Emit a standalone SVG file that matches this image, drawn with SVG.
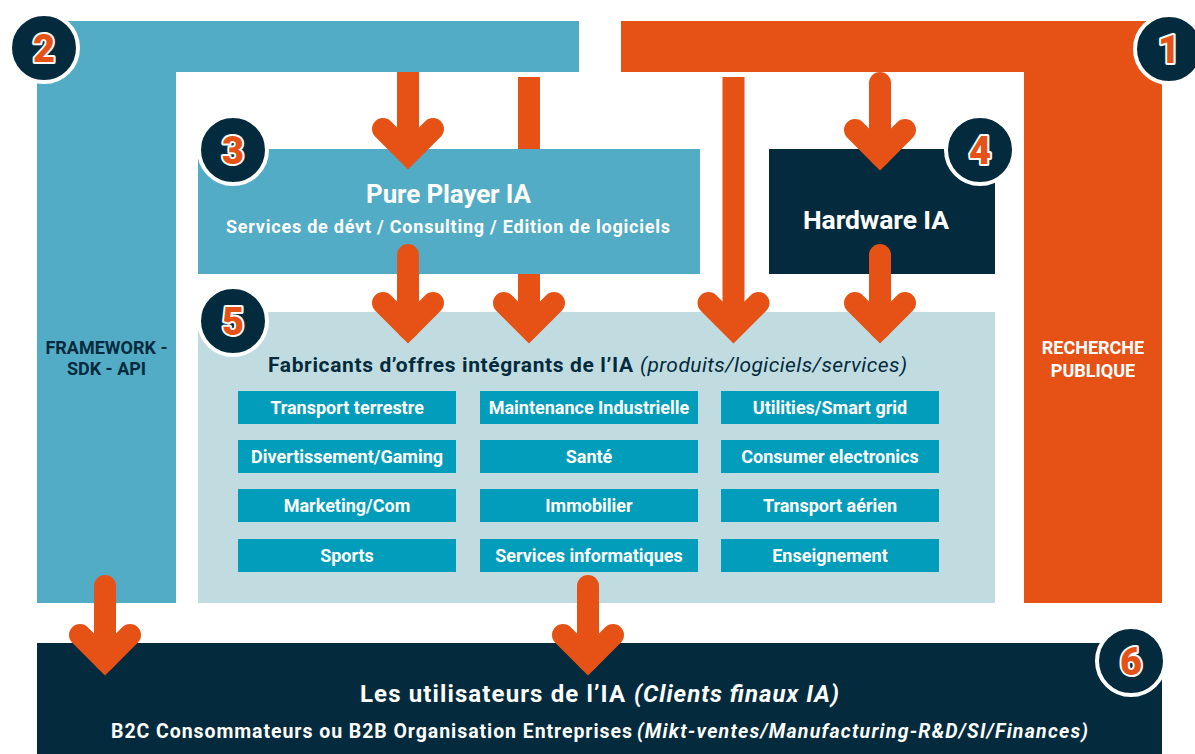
<svg xmlns="http://www.w3.org/2000/svg" width="1195" height="754" viewBox="0 0 1195 754">
<defs>
<style>
.blue{fill:#53ACC5}
.orange{fill:#E65216}
.navy{fill:#032B3D}
.light{fill:#C1DCE0}
.teal{fill:#029DBA}
.t{font-family:Roboto,"Liberation Sans",sans-serif;font-weight:700}
.w{fill:#FFFFFF}
.n{fill:#032B3D}
.item{font-family:Roboto,"Liberation Sans",sans-serif;font-weight:700;font-size:18px;fill:#FFFFFF;text-anchor:middle}
.shaft{fill:none;stroke:#E65216;stroke-width:22}
.butt{stroke-linecap:butt}
.round{stroke-linecap:round}
.head{fill:none;stroke:#E65216;stroke-width:22;stroke-linecap:round;stroke-linejoin:miter}
.badge circle{fill:#032B3D;stroke:#FFFFFF;stroke-width:4}
.badge text{font-family:Roboto,"Liberation Sans",sans-serif;font-weight:900;font-size:38px;fill:#E65216;stroke:#FFFFFF;stroke-width:4;paint-order:stroke;stroke-linejoin:round;text-anchor:middle}
</style>
</defs>
<rect width="1195" height="754" fill="#FFFFFF"/>

<g id="node-framework">
<path class="blue" d="M37,21 H579 V72 H176 V603 H37 Z"/>
<text class="t n" font-size="18" text-anchor="middle" x="106.5" y="354">FRAMEWORK -</text>
<text class="t n" font-size="18" text-anchor="middle" x="106.5" y="375">SDK - API</text>
</g>

<g id="node-recherche">
<path class="orange" d="M621,21 H1162 V603 H1024 V72 H621 Z"/>
<text class="t w" font-size="18" text-anchor="middle" x="1093" y="354">RECHERCHE</text>
<text class="t w" font-size="18" text-anchor="middle" x="1093" y="377">PUBLIQUE</text>
</g>

<g id="node-pureplayer">
<rect class="blue" x="198" y="149" width="502" height="125"/>
<text class="t w" font-size="26" x="366" y="203" textLength="165">Pure Player IA</text>
<text class="t w" font-size="18" x="226" y="233" textLength="444">Services de dévt / Consulting / Edition de logiciels</text>
</g>

<g id="node-hardware">
<rect class="navy" x="769" y="149" width="226" height="125"/>
<text class="t w" font-size="26.5" x="803" y="229" textLength="146">Hardware IA</text>
</g>

<g id="node-fabricants">
<rect class="light" x="198" y="312" width="797" height="291"/>
<text class="t n" font-size="21" x="268" y="372" textLength="365">Fabricants d’offres intégrants de l’IA</text>
<text class="n" font-family="Roboto,'Liberation Sans',sans-serif" font-style="italic" font-weight="400" font-size="21" x="640" y="372" textLength="267">(produits/logiciels/services)</text>
</g>

<g id="items">
<g id="item-transport-terrestre"><rect class="teal" x="238" y="391" width="218" height="33"/><text class="item" x="347" y="414">Transport terrestre</text></g>
<g id="item-maintenance"><rect class="teal" x="480" y="391" width="218" height="33"/><text class="item" x="589" y="414">Maintenance Industrielle</text></g>
<g id="item-utilities"><rect class="teal" x="721" y="391" width="218" height="33"/><text class="item" x="830" y="414">Utilities/Smart grid</text></g>
<g id="item-divertissement"><rect class="teal" x="238" y="440" width="218" height="33"/><text class="item" x="347" y="463">Divertissement/Gaming</text></g>
<g id="item-sante"><rect class="teal" x="480" y="440" width="218" height="33"/><text class="item" x="589" y="463">Santé</text></g>
<g id="item-consumer"><rect class="teal" x="721" y="440" width="218" height="33"/><text class="item" x="830" y="463">Consumer electronics</text></g>
<g id="item-marketing"><rect class="teal" x="238" y="489" width="218" height="33"/><text class="item" x="347" y="512">Marketing/Com</text></g>
<g id="item-immobilier"><rect class="teal" x="480" y="489" width="218" height="33"/><text class="item" x="589" y="512">Immobilier</text></g>
<g id="item-transport-aerien"><rect class="teal" x="721" y="489" width="218" height="33"/><text class="item" x="830" y="512">Transport aérien</text></g>
<g id="item-sports"><rect class="teal" x="238" y="539" width="218" height="33"/><text class="item" x="347" y="562">Sports</text></g>
<g id="item-services-info"><rect class="teal" x="480" y="539" width="218" height="33"/><text class="item" x="589" y="562">Services informatiques</text></g>
<g id="item-enseignement"><rect class="teal" x="721" y="539" width="218" height="33"/><text class="item" x="830" y="562">Enseignement</text></g>
</g>

<g id="node-utilisateurs">
<rect class="navy" x="37" y="643" width="1125" height="111"/>
<text class="t w" font-size="24" x="360" y="702" textLength="265">Les utilisateurs de l’IA</text>
<text class="t w" font-size="24" font-style="italic" x="634" y="702" textLength="205">(Clients finaux IA)</text>
<text class="t w" font-size="19.5" x="111" y="738" textLength="521">B2C Consommateurs ou B2B Organisation Entreprises</text>
<text class="t w" font-size="19.5" font-style="italic" x="637" y="738" textLength="451">(Mikt-ventes/Manufacturing-R&amp;D/SI/Finances)</text>
</g>

<g id="connectors">
<line class="shaft butt" x1="408" y1="72" x2="408" y2="154"/>
<polyline class="head" points="383,129 408,154 433,129"/>
<line class="shaft round" x1="880" y1="83" x2="880" y2="155"/>
<polyline class="head" points="855,130 880,155 905,130"/>
<line class="shaft butt" x1="529" y1="77" x2="529" y2="149"/>
<line class="shaft butt" x1="529" y1="274" x2="529" y2="328"/>
<polyline class="head" points="504,303 529,328 554,303"/>
<line class="shaft round" x1="408" y1="255" x2="408" y2="328"/>
<polyline class="head" points="383,303 408,328 433,303"/>
<line class="shaft butt" x1="733.5" y1="77" x2="733.5" y2="328"/>
<polyline class="head" points="708.5,303 733.5,328 758.5,303"/>
<line class="shaft round" x1="880" y1="255" x2="880" y2="328"/>
<polyline class="head" points="855,303 880,328 905,303"/>
<line class="shaft round" x1="105" y1="586" x2="105" y2="660"/>
<polyline class="head" points="80,635 105,660 130,635"/>
<line class="shaft round" x1="588" y1="586" x2="588" y2="660"/>
<polyline class="head" points="563,635 588,660 613,635"/>
</g>

<g id="badge-1" class="badge"><circle cx="1169" cy="49" r="34"/><text x="1169" y="63">1</text></g>
<g id="badge-2" class="badge"><circle cx="44" cy="48" r="34"/><text x="44" y="62">2</text></g>
<g id="badge-3" class="badge"><circle cx="233" cy="150" r="34"/><text x="233" y="164">3</text></g>
<g id="badge-4" class="badge"><circle cx="980" cy="150" r="34"/><text x="980" y="164">4</text></g>
<g id="badge-5" class="badge"><circle cx="233" cy="321" r="34"/><text x="233" y="335">5</text></g>
<g id="badge-6" class="badge"><circle cx="1131" cy="661" r="34"/><text x="1131" y="675">6</text></g>
</svg>
